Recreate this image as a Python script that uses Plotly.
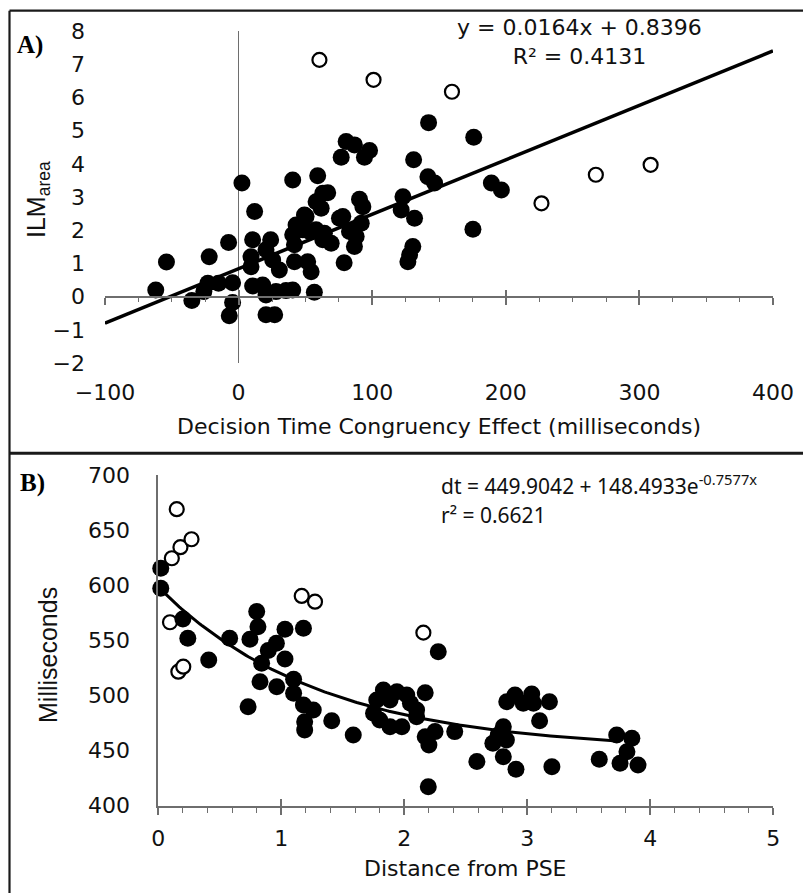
import numpy as np
import plotly.graph_objects as go

# ---------------- Panel A: ILM area vs decision-time congruency effect ----------------
a_open_x = [60.5, 101, 159.7, 226.7, 267.4, 308.4]
a_open_y = [7.13, 6.53, 6.17, 2.81, 3.67, 3.97]

a_x = [-62, -54, -35, -26, -23, -22, -15, -7.5, -4.5, -4.5, -7,
       2.5, 12, 10.5, 24, 9.3, 9.3, 20.5, 25.5, 30.5, 10.5, 18, 20.5, 28, 35.5, 20.5, 27, 40.5,
       41.8, 51.7, 54.3, 56.7, 40.5, 59.2, 63, 58, 61.8, 49.3, 43, 40.5, 41.8, 53, 63, 50.5, 48, 58, 64.2, 66.7,
       69.3, 75.5, 78, 79, 83, 86.7, 88, 91.8, 90.5, 93, 80.5, 86.7, 76.8, 98, 94.2,
       123, 121.7, 131.7, 130.4, 128, 126.7, 131, 141.7, 146.7, 142.2, 176, 189.2, 196.7, 175.4]
a_y = [0.20, 1.04, -0.12, 0.15, 0.40, 1.20, 0.40, 1.63, 0.42, -0.18, -0.58,
       3.42, 2.56, 1.71, 1.71, 1.20, 0.90, 1.41, 1.10, 0.80, 0.32, 0.35, 0.05, 0.15, 0.18, -0.55, -0.55, 0.20,
       1.05, 1.05, 0.75, 0.13, 3.51, 3.64, 3.11, 2.86, 2.66, 2.46, 2.16, 1.86, 1.56, 1.96, 1.71, 2.41, 2.01, 2.01, 1.91, 3.13,
       1.61, 2.36, 2.41, 1.02, 1.96, 1.51, 1.81, 2.21, 2.93, 2.71, 4.67, 4.57, 4.20, 4.40, 4.20,
       3.01, 2.61, 2.36, 1.51, 1.26, 1.05, 4.12, 3.61, 3.42, 5.24, 4.80, 3.42, 3.21, 2.03]

# linear trend: y = 0.0164x + 0.8396
a_slope, a_intercept = 0.0164, 0.8396
a_fit_x = [-100, 400]

# ---------------- Panel B: decision time vs distance from PSE ----------------
b_open_x = [0.15, 0.11, 0.18, 0.27, 0.095, 1.166, 1.274, 0.163, 0.203, 2.155]
b_open_y = [669, 624.5, 634.5, 641.7, 566.4, 590.3, 585.1, 521.6, 526.1, 557]

b_x = [0.02, 0.02, 0.2, 0.24, 0.58, 0.41, 0.8, 0.81, 0.745, 1.03, 1.18, 0.96, 0.894, 1.03, 0.84,
       0.827, 0.963, 1.1, 1.1, 0.73, 1.18, 1.26, 1.19, 1.19, 1.41, 1.585,
       1.83, 1.94, 2.02, 1.776, 1.884, 2.05, 2.1, 1.75, 1.8, 1.884, 1.98, 2.1, 2.17, 2.276,
       2.25, 2.17, 2.2, 2.195, 2.41, 2.59, 2.805, 2.764, 2.72, 2.83, 2.805, 2.908,
       2.833, 2.9, 2.967, 3.036, 3.05, 3.18, 3.1, 3.2, 3.585, 3.727, 3.85, 3.81, 3.754, 3.9]
b_y = [615.4, 597.3, 569.4, 551.9, 551.9, 532.2, 576.1, 562.4, 551, 560.1, 561, 547.4, 540.7, 533.1, 529.2,
       512.5, 508, 514.7, 502, 489.8, 491.4, 486.8, 476.2, 468.7, 477.1, 464.2,
       505, 503.4, 500.5, 495.9, 495.9, 493, 486.8, 483.8, 477.8, 471.7, 471.7, 480.8, 502.5, 539.7,
       467.2, 462.6, 455.1, 417.2, 467.2, 440, 471.7, 464.2, 456.6, 459.6, 444.5, 433,
       494.4, 500.5, 492.9, 501.4, 492.9, 494.4, 477.1, 435.4, 442.1, 464.2, 461.2, 449, 438.5, 436.9]

# exponential decay fit: dt = 449.9042 + 148.4933 e^(-0.7577x)
b_a, b_b, b_k = 449.9042, 148.4933, 0.7577
b_fit_range = (0.02, 3.75)

W, H = 803, 893


def px(x):
    return x / W


def py(y):
    return 1 - y / H


AXIS_GREY = "#6e6e6e"
TXT = "#111111"
TICK_FONT = dict(family="DejaVu Sans", size=22, color=TXT)

fig = go.Figure()

filled = dict(size=17, color="black", line=dict(width=0))
hollow = dict(size=14, color="white", line=dict(width=2.2, color="black"))

# panel A traces
fig.add_trace(go.Scatter(x=a_open_x, y=a_open_y, mode="markers", marker=hollow,
                         xaxis="x", yaxis="y", cliponaxis=False, showlegend=False))
fig.add_trace(go.Scatter(x=a_x, y=a_y, mode="markers", marker=filled,
                         xaxis="x", yaxis="y", cliponaxis=False, showlegend=False))
a_line_y = [a_slope * v + a_intercept for v in a_fit_x]
fig.add_trace(go.Scatter(x=a_fit_x, y=a_line_y, mode="lines", line=dict(color="black", width=3.6),
                         xaxis="x", yaxis="y", cliponaxis=False, showlegend=False))

# panel B traces
fig.add_trace(go.Scatter(x=b_open_x, y=b_open_y, mode="markers", marker=hollow,
                         xaxis="x2", yaxis="y2", cliponaxis=False, showlegend=False))
fig.add_trace(go.Scatter(x=b_x, y=b_y, mode="markers", marker=filled,
                         xaxis="x2", yaxis="y2", cliponaxis=False, showlegend=False))
bx = np.linspace(b_fit_range[0], b_fit_range[1], 200)
by = b_a + b_b * np.exp(-b_k * bx)
fig.add_trace(go.Scatter(x=bx, y=by, mode="lines", line=dict(color="black", width=3),
                         xaxis="x2", yaxis="y2", cliponaxis=False, showlegend=False))

# empty traces so the overlay tick axes are rendered
fig.add_trace(go.Scatter(x=[None], y=[None], xaxis="x3", yaxis="y", showlegend=False, hoverinfo="skip"))
fig.add_trace(go.Scatter(x=[None], y=[None], xaxis="x4", yaxis="y2", showlegend=False, hoverinfo="skip"))

a_dom_x = [px(105), px(773)]
a_dom_y = [py(363), py(31)]
a_zero_pos = py(296.7)
b_dom_x = [px(158.3), px(773.3)]
b_dom_y = [py(805.7), py(475)]

fig.update_layout(
    width=W, height=H,
    margin=dict(l=0, r=0, t=0, b=0, pad=0, autoexpand=False),
    paper_bgcolor="white", plot_bgcolor="white",
    showlegend=False,
    # panel A axes
    xaxis=dict(domain=a_dom_x, range=[-100, 400], anchor="free", position=a_zero_pos, automargin=False,
               showgrid=False, zeroline=True, zerolinecolor=AXIS_GREY, zerolinewidth=1.4,
               showline=True, linecolor=AXIS_GREY, linewidth=1.6,
               tickmode="linear", tick0=-100, dtick=100,
               ticks="outside", ticklen=7, tickwidth=1.5, tickcolor=AXIS_GREY,
               minor=dict(dtick=25, ticks="outside", ticklen=4, tickwidth=1.3, tickcolor=AXIS_GREY),
               tickfont=TICK_FONT, ticklabelstandoff=69),
    xaxis3=dict(overlaying="x", range=[-100, 400], anchor="free", position=a_zero_pos, automargin=False,
                showgrid=False, zeroline=False, showline=False,
                tickmode="linear", tick0=-100, dtick=100,
                ticks="inside", ticklen=7, tickwidth=1.5, tickcolor=AXIS_GREY,
                showticklabels=False),
    yaxis=dict(domain=a_dom_y, range=[-2, 8], anchor="free", position=a_dom_x[0], automargin=False,
               showgrid=False, zeroline=False, showline=False, ticks="",
               tickmode="linear", tick0=-2, dtick=1,
               tickfont=TICK_FONT, ticklabelstandoff=20),
    # panel B axes
    xaxis2=dict(domain=b_dom_x, range=[0, 5], anchor="y2", automargin=False,
                showgrid=False, zeroline=False,
                showline=True, linecolor=AXIS_GREY, linewidth=1.6,
                tickmode="linear", tick0=0, dtick=1,
                ticks="outside", ticklen=7, tickwidth=1.5, tickcolor=AXIS_GREY,
                minor=dict(dtick=0.2, ticks="outside", ticklen=5, tickwidth=1.3, tickcolor=AXIS_GREY),
                tickfont=TICK_FONT, ticklabelstandoff=5),
    xaxis4=dict(overlaying="x2", range=[0, 5], anchor="y2", automargin=False,
                showgrid=False, zeroline=False, showline=False,
                tickmode="linear", tick0=0, dtick=1,
                ticks="inside", ticklen=7, tickwidth=1.5, tickcolor=AXIS_GREY,
                showticklabels=False),
    yaxis2=dict(domain=b_dom_y, range=[400, 700], anchor="x2", automargin=False,
                showgrid=False, zeroline=False,
                showline=True, linecolor=AXIS_GREY, linewidth=1.6, ticks="",
                tickmode="linear", tick0=400, dtick=50,
                tickfont=TICK_FONT, ticklabelstandoff=22),
)

# frame around the figure and separator between panels
frame = dict(color="#1a1a1a", width=2.2)
fig.add_shape(type="line", xref="paper", yref="paper", x0=px(9.5), x1=1, y0=py(10.7), y1=py(10.7), line=frame)
fig.add_shape(type="line", xref="paper", yref="paper", x0=px(9.5), x1=px(9.5), y0=py(10.7), y1=0, line=frame)
fig.add_shape(type="line", xref="paper", yref="paper", x0=px(9.5), x1=1, y0=py(453.3), y1=py(453.3),
              line=dict(color="#1a1a1a", width=3))

annots = [
    dict(text="<b>A)</b>", x=px(30), y=py(45), font=dict(family="Liberation Serif", size=25, color="black")),
    dict(text="<b>B)</b>", x=px(32), y=py(482.7), font=dict(family="Liberation Serif", size=25, color="black")),
    dict(text="y = 0.0164x + 0.8396<br>R² = 0.4131", x=px(579), y=py(42), align="center",
         font=dict(family="DejaVu Sans", size=22, color=TXT)),
    dict(text="dt = 449.9042 + 148.4933e<sup>-0.7577x</sup>", x=px(439), y=py(484),
         xanchor="left", font=dict(family="Noto Sans", size=21, color=TXT)),
    dict(text="r² = 0.6621", x=px(439), y=py(515),
         xanchor="left", font=dict(family="Noto Sans", size=21, color=TXT)),
    dict(text="Decision Time Congruency Effect (milliseconds)", x=px(439), y=py(426.7),
         font=dict(family="DejaVu Sans", size=22, color=TXT)),
    dict(text="Distance from PSE", x=px(465.7), y=py(868),
         font=dict(family="DejaVu Sans", size=22, color=TXT)),
    dict(text="ILM<sub>area</sub>", x=px(38), y=py(200), textangle=-90,
         font=dict(family="Liberation Sans", size=25, color=TXT)),
    dict(text="Milliseconds", x=px(48), y=py(655), textangle=-90,
         font=dict(family="Liberation Sans", size=25, color=TXT)),
]
for a in annots:
    a.setdefault("xanchor", "center")
    fig.add_annotation(xref="paper", yref="paper", showarrow=False, yanchor="middle", **a)

fig.write_html("out.html")
